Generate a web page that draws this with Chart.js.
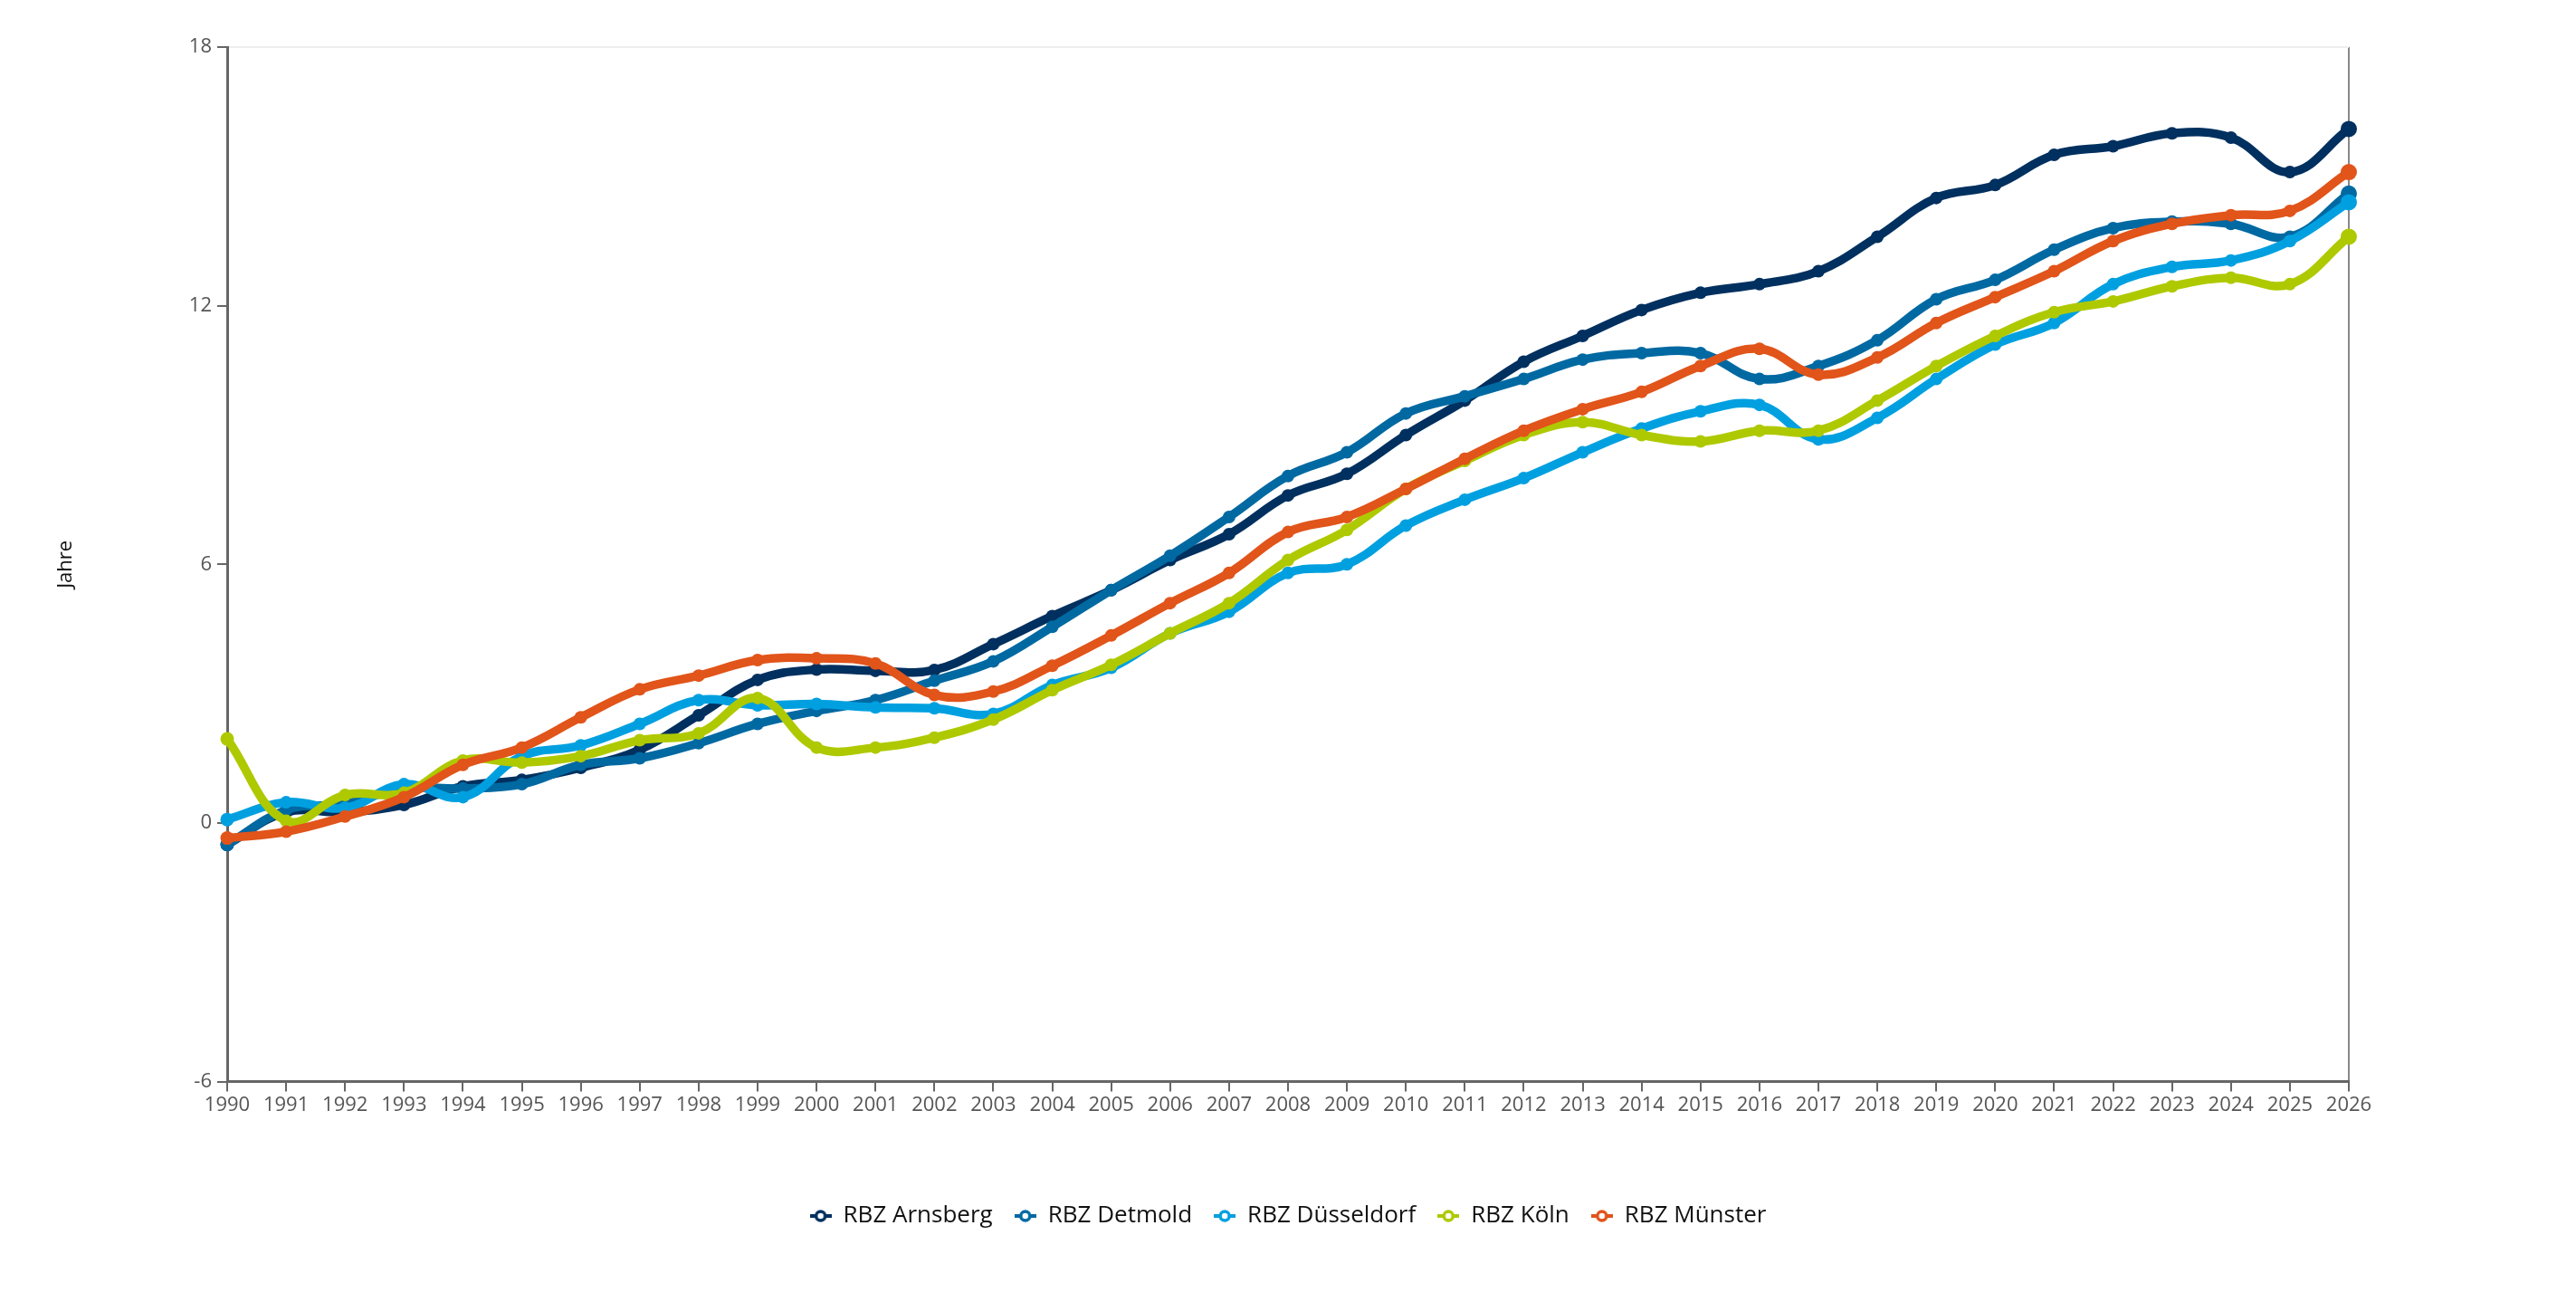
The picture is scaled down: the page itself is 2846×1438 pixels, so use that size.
<!DOCTYPE html>
<html lang="de">
<head>
<meta charset="utf-8">
<title>Jahre</title>
<script src="https://cdn.jsdelivr.net/npm/chart.js@4"></script>
<style>
  html, body { margin: 0; padding: 0; background: #fff; }
  #wrap { width: 2846px; height: 1438px; position: relative; }
</style>
</head>
<body>
<div id="wrap"><canvas id="chart"></canvas></div>
<script>
const years = ["1990","1991","1992","1993","1994","1995","1996","1997","1998","1999","2000","2001","2002","2003","2004","2005","2006","2007","2008","2009","2010","2011","2012","2013","2014","2015","2016","2017","2018","2019","2020","2021","2022","2023","2024","2025","2026"];

const arnsberg = [-0.5, 0.25, 0.25, 0.42, 0.85, 1.0, 1.28, 1.7, 2.5, 3.32, 3.56, 3.53, 3.55, 4.15, 4.8, 5.4, 6.1, 6.7, 7.6, 8.1, 9.0, 9.8, 10.7, 11.3, 11.9, 12.3, 12.5, 12.8, 13.6, 14.5, 14.8, 15.5, 15.7, 16.0, 15.9, 15.1, 16.1];
const detmold = [-0.5, 0.3, 0.45, 0.8, 0.8, 0.9, 1.35, 1.5, 1.85, 2.3, 2.6, 2.85, 3.3, 3.75, 4.55, 5.4, 6.2, 7.1, 8.05, 8.6, 9.5, 9.9, 10.3, 10.75, 10.9, 10.9, 10.3, 10.6, 11.2, 12.15, 12.6, 13.3, 13.8, 13.95, 13.9, 13.6, 14.6];
const duesseldorf = [0.08, 0.48, 0.35, 0.9, 0.6, 1.55, 1.8, 2.3, 2.85, 2.73, 2.76, 2.68, 2.66, 2.53, 3.2, 3.6, 4.4, 4.9, 5.8, 6.0, 6.9, 7.5, 8.0, 8.6, 9.15, 9.55, 9.7, 8.9, 9.4, 10.3, 11.1, 11.6, 12.5, 12.9, 13.05, 13.5, 14.4];
const koeln = [1.95, 0.05, 0.65, 0.7, 1.45, 1.4, 1.55, 1.92, 2.08, 2.9, 1.75, 1.75, 1.98, 2.4, 3.08, 3.67, 4.4, 5.1, 6.1, 6.8, 7.75, 8.4, 9.0, 9.3, 9.0, 8.85, 9.1, 9.1, 9.8, 10.6, 11.3, 11.85, 12.1, 12.45, 12.65, 12.5, 13.6];
const muenster = [-0.35, -0.2, 0.15, 0.6, 1.35, 1.75, 2.45, 3.1, 3.42, 3.78, 3.82, 3.7, 2.97, 3.05, 3.65, 4.35, 5.1, 5.8, 6.75, 7.1, 7.75, 8.45, 9.1, 9.6, 10.0, 10.6, 11.0, 10.4, 10.8, 11.6, 12.2, 12.8, 13.5, 13.9, 14.1, 14.2, 15.1];

const yTicks = [-6, 0, 6, 12, 18];

const seriesNames = ["RBZ Arnsberg", "RBZ Detmold", "RBZ Düsseldorf", "RBZ Köln", "RBZ Münster"];
const seriesColors = ["#00305f", "#0069a2", "#00a0e0", "#afc900", "#e1541a"];
const seriesData = [arnsberg, detmold, duesseldorf, koeln, muenster];

const FONT = "'Open Sans', 'Noto Sans', sans-serif";

// small line-with-ring marker for the legend
function legendMarker(color){
  const c = document.createElement("canvas");
  c.width = 24; c.height = 16;
  const g = c.getContext("2d");
  g.strokeStyle = color;
  g.lineWidth = 4;
  g.beginPath(); g.moveTo(0, 8); g.lineTo(24, 8); g.stroke();
  g.beginPath(); g.arc(12, 8, 5, 0, Math.PI * 2);
  g.fillStyle = "#fff"; g.fill();
  g.lineWidth = 3.5; g.stroke();
  return c;
}
const markers = seriesColors.map(legendMarker);

const lastIdx = years.length - 1;

// legend is centred on the whole canvas, not on the padded area
const legendCenter = {
  id: "legendCenter",
  afterLayout(chart){
    if(!chart.legend) return;
    chart.legend.left = 0;
    chart.legend.right = chart.width;
    chart.legend.width = chart.width;
  }
};

new Chart(document.getElementById("chart"), {
  type: "line",
  plugins: [legendCenter],
  data: {
    labels: years,
    datasets: seriesData.map((d, i) => ({
      label: seriesNames[i],
      data: d,
      borderColor: seriesColors[i],
      backgroundColor: seriesColors[i],
      pointBackgroundColor: seriesColors[i],
      pointBorderWidth: 0,
      borderWidth: 9.5,
      tension: 0.4,
      pointRadius: ctx => ctx.dataIndex === lastIdx ? 9 : (ctx.dataIndex === 0 ? 7.5 : 7),
      order: seriesData.length - i
    }))
  },
  options: {
    responsive: true,
    maintainAspectRatio: false,
    devicePixelRatio: 1,
    animation: false,
    layout: { padding: { top: 52, right: 251, bottom: 72, left: 40 } },
    plugins: {
      tooltip: { enabled: false },
      legend: {
        position: "bottom",
        labels: {
          usePointStyle: true,
          pointStyleWidth: 24,
          padding: 24,
          color: "#111",
          font: { family: FONT, size: 26 },
          sort: (a, b) => a.datasetIndex - b.datasetIndex,
          generateLabels: chart => {
            const items = Chart.defaults.plugins.legend.labels.generateLabels(chart);
            items.forEach(it => { it.pointStyle = markers[it.datasetIndex]; });
            return items;
          }
        }
      }
    },
    scales: {
      x: {
        offset: false,
        afterFit: scale => { scale.height += 70; },
        border: { color: "#666", width: 3 },
        grid: {
          color: ctx => ctx.index === lastIdx ? "#888" : "rgba(0,0,0,0)",
          lineWidth: 2,
          tickColor: "#666",
          tickLength: 11,
          drawOnChartArea: true
        },
        ticks: {
          color: "#555",
          font: { family: FONT, size: 22 },
          autoSkip: false,
          maxRotation: 0,
          padding: 2
        }
      },
      y: {
        min: -6,
        max: 18,
        afterBuildTicks: scale => { scale.ticks = yTicks.map(v => ({ value: v })); },
        afterFit: scale => { scale.width = 211; },
        border: { color: "#666", width: 3 },
        title: {
          display: true,
          text: "Jahre",
          color: "#111",
          font: { family: FONT, size: 22 },
          padding: { top: 20, bottom: 0 }
        },
        grid: {
          color: ctx => ctx.tick && ctx.tick.value === 18 ? "#eeeeee" : "rgba(0,0,0,0)",
          lineWidth: 2,
          tickColor: "#666",
          tickLength: 11
        },
        ticks: {
          color: "#555",
          font: { family: FONT, size: 22 },
          padding: 6
        }
      }
    }
  }
});
</script>
</body>
</html>
